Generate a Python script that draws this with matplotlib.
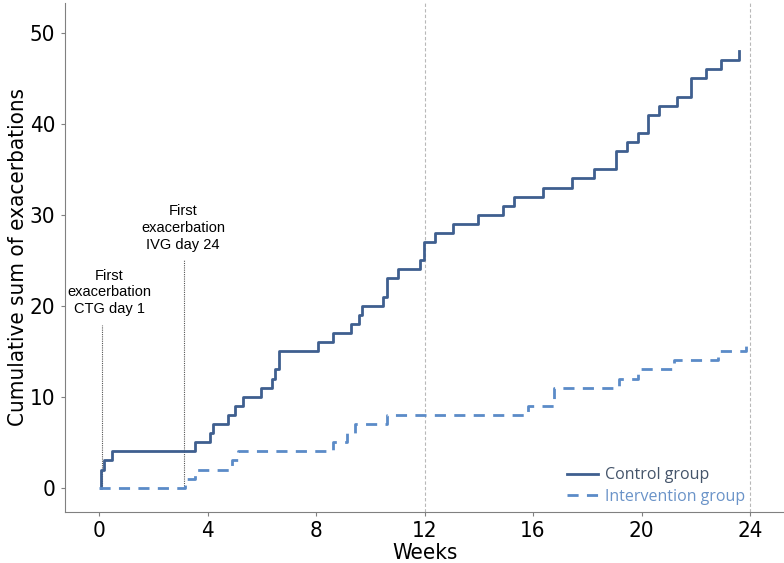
import matplotlib
matplotlib.use("Agg")
import matplotlib.pyplot as plt

# event times (weeks) and cumulative counts
control_weeks = [0.06, 0.06, 0.2, 0.48, 3.55, 4.09, 4.21, 4.76, 5.01, 5.3, 5.96,
                 6.37, 6.49, 6.64, 8.09, 8.61, 9.29, 9.57, 9.70, 10.48, 10.63,
                 11.03, 11.83, 11.97, 12.38, 13.05, 13.96, 14.9, 15.3, 16.37,
                 17.44, 18.25, 19.05, 19.45, 19.85, 20.25, 20.63, 21.32, 21.84,
                 22.37, 22.92, 23.59]
control_sum = [0, 2, 3, 4, 5, 6, 7, 8, 9, 10, 11, 12, 13, 15, 16, 17, 18, 19,
               20, 21, 23, 24, 25, 27, 28, 29, 30, 31, 32, 33, 34, 35, 37, 38,
               39, 41, 42, 43, 45, 46, 47, 48]

interv_weeks = [0.0, 3.17, 3.55, 4.89, 5.14, 8.62, 9.13, 9.44, 10.63, 15.83,
                16.79, 19.18, 19.85, 21.2, 22.8, 23.85]
interv_sum = [0, 1, 2, 3, 4, 5, 6, 7, 8, 9, 11, 12, 13, 14, 15, 16]

x_ticks = [0, 4, 8, 12, 16, 20, 24]
y_ticks = [0, 10, 20, 30, 40, 50]

plt.rcParams["font.family"] = ["DejaVu Sans"]
plt.rcParams["font.stretch"] = "condensed"

fig = plt.figure(figsize=(7.84, 5.63), dpi=100)
ax = fig.add_axes([0.083, 0.091, 0.917, 0.904])

c_ctrl = "#3f5f8f"
c_int = "#5b8bc8"

for x in [12, 24]:
    ax.axvline(x, color="#b8b8b8", lw=0.8, ls=(0, (3, 2)), zorder=1)

ax.step(control_weeks, control_sum, where="post", color=c_ctrl, lw=2.0,
        label="Control group", zorder=3)
ax.step(interv_weeks, interv_sum, where="post", color=c_int, lw=2.0,
        ls=(0, (4, 3)), label="Intervention group", zorder=3)

# annotations for first exacerbations
ax.plot([0.1, 0.1], [0, 17.9], color="#555555", lw=0.8, ls=(0, (1, 1)))
ax.plot([3.15, 3.15], [0, 25.0], color="#555555", lw=0.8, ls=(0, (1, 1)))
ax.text(0.38, 18.85, "First\nexacerbation\nCTG day 1", ha="center", va="bottom",
        fontsize=10.5, family=["Liberation Sans", "DejaVu Sans"], stretch="normal",
        linespacing=1.25)
ax.text(3.1, 25.95, "First\nexacerbation\nIVG day 24", ha="center", va="bottom",
        fontsize=10.5, family=["Liberation Sans", "DejaVu Sans"], stretch="normal",
        linespacing=1.25)

ax.set_xlim(-1.25, 25.25)
ax.set_ylim(-2.64, 53.3)
ax.set_xticks(x_ticks)
ax.set_yticks(y_ticks)
ax.tick_params(labelsize=16, length=3, color="#808080", pad=4)
ax.set_xlabel("Weeks", fontsize=16, labelpad=1)
ax.set_ylabel("Cumulative sum of exacerbations", fontsize=16, labelpad=1)

for s in ["top", "right"]:
    ax.spines[s].set_visible(False)
for s in ["left", "bottom"]:
    ax.spines[s].set_color("#808080")

leg = ax.legend(loc="lower right", bbox_to_anchor=(745 / 784, 58 / 563),
                bbox_transform=fig.transFigure, borderaxespad=0, borderpad=0,
                frameon=False, handlelength=2.0, handletextpad=0.4,
                labelspacing=0.35,
                prop={"family": ["Open Sans", "DejaVu Sans"], "size": 11.5,
                      "stretch": "normal"})
for t, c in zip(leg.get_texts(), ["#44546a", "#6a93c8"]):
    t.set_color(c)

fig.savefig("out.png", dpi=100)
